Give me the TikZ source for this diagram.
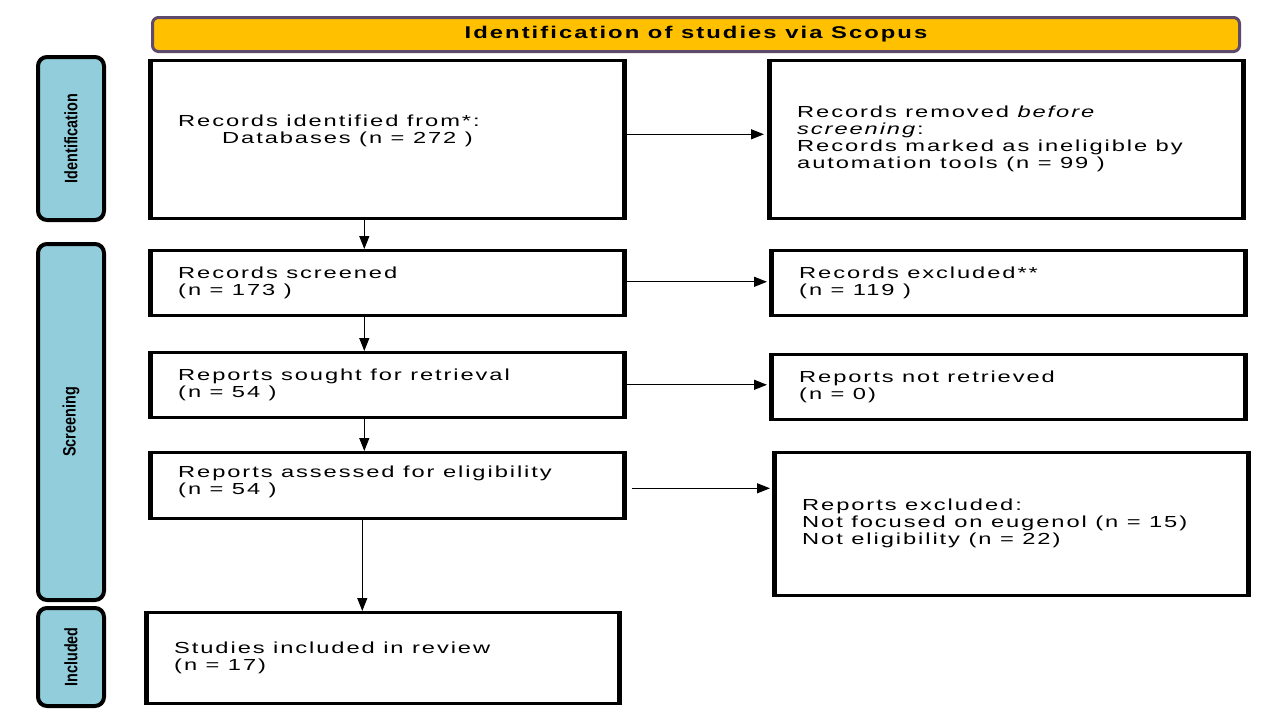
\documentclass[tikz,border=0pt]{standalone}
\usepackage{fontspec}
\setmainfont{Liberation Sans}
\newfontfamily\bodyfont[LetterSpace=12,FakeStretch=1.48]{Liberation Sans}
\newfontfamily\headfont[LetterSpace=12,FakeStretch=1.4]{Liberation Sans}
\newfontfamily\stagefont[FakeStretch=0.8]{Liberation Sans}
\usetikzlibrary{arrows.meta}
\definecolor{headfill}{HTML}{FFC000}
\definecolor{headline}{HTML}{5E4B6B}
\definecolor{sidefill}{HTML}{92CDDC}
\newcommand\thicksides[1]{\draw[sideline] (#1.north west) -- (#1.south west) (#1.north east) -- (#1.south east);}
\begin{document}
\begin{tikzpicture}[x=1pt,y=-1pt,
  box/.style={draw=black, line width=2.6pt, rectangle, inner sep=0pt, anchor=north west, fill=white},
  sideline/.style={line width=4.2pt, line cap=butt},
  head/.style={draw=headline, fill=headfill, line width=3pt, rounded corners=6pt, anchor=north west, inner sep=0pt,
     font=\headfont\bfseries\fontsize{17}{19}\selectfont},
  stage/.style={draw=black, fill=sidefill, line width=4pt, rounded corners=9pt, anchor=north west, inner sep=0pt},
  stagetxt/.style={rotate=90, font=\stagefont\bfseries\fontsize{18}{20}\selectfont, inner sep=0pt},
  txt/.style={anchor=west, align=left, inner sep=0pt, font=\bodyfont\fontsize{16}{17}\selectfont},
  arr/.style={-{Triangle[length=13pt,width=10pt]}, line width=1.3pt, black}]
\useasboundingbox (0,0) rectangle (1280,720);
\fill[white] (0,0) rectangle (1280,720);

% header
\node[head, minimum width=1087pt, minimum height=34pt] (hd) at (151,16) {Identification of studies via Scopus};

% stage labels
\node[stage, minimum width=66pt, minimum height=163pt] (sid) at (36,55) {};
\node[stagetxt] (sidt) at (sid.center) {Identification};
\node[stage, minimum width=66pt, minimum height=356pt] (ssc) at (36,242) {};
\node[stagetxt] (ssct) at (ssc.center) {Screening};
\node[stage, minimum width=66pt, minimum height=98pt] (sin) at (36,606) {};
\node[stagetxt] (sint) at (sin.center) {Included};

% left boxes
\node[box, minimum width=472pt, minimum height=158pt] (b1) at (150,59) {};
\node[box, minimum width=472pt, minimum height=65pt] (b2) at (150,249) {};
\node[box, minimum width=472pt, minimum height=65pt] (b3) at (150,351) {};
\node[box, minimum width=472pt, minimum height=66pt] (b4) at (150,451) {};
\node[box, minimum width=471pt, minimum height=91pt] (b5) at (146,611) {};

% right boxes
\node[box, minimum width=472pt, minimum height=158pt] (r1) at (769,59) {};
\node[box, minimum width=472pt, minimum height=65pt] (r2) at (771,249) {};
\node[box, minimum width=472pt, minimum height=65pt] (r3) at (771,353) {};
\node[box, minimum width=472pt, minimum height=143pt] (r4) at (774,451) {};

\thicksides{b1}\thicksides{b2}\thicksides{b3}\thicksides{b4}\thicksides{b5}
\thicksides{r1}\thicksides{r2}\thicksides{r3}\thicksides{r4}

% texts
\node[txt] (b1t) at ([xshift=28pt,yshift=8pt]b1.west) {Records identified from*:\\\hspace*{44pt}Databases (n = 272 )};
\node[txt] (b2t) at ([xshift=28pt]b2.west) {Records screened\\(n = 173 )};
\node[txt] (b3t) at ([xshift=28pt]b3.west) {Reports sought for retrieval\\(n = 54 )};
\node[txt] (b4t) at ([xshift=28pt,yshift=3pt]b4.west) {Reports assessed for eligibility\\(n = 54 )};
\node[txt] (b5t) at ([xshift=28pt]b5.west) {Studies included in review\\(n = 17)};

\node[txt] (r1t) at ([xshift=28pt]r1.west) {Records removed \textit{before}\\\textit{screening}:\\Records marked as ineligible by\\automation tools (n = 99 )};
\node[txt] (r2t) at ([xshift=28pt]r2.west) {Records excluded**\\(n = 119 )};
\node[txt] (r3t) at ([xshift=28pt]r3.west) {Reports not retrieved\\(n = 0)};
\node[txt] (r4t) at ([xshift=28pt]r4.west) {Reports excluded:\\Not focused on eugenol (n = 15)\\Not eligibility (n = 22)};

% horizontal arrows
\draw[arr, shorten >=5pt] ([yshift=5pt]b1.east) -- ([yshift=5pt]b1.east -| r1.west);
\draw[arr, shorten >=4pt] ([yshift=1pt]b2.east) -- ([yshift=1pt]b2.east -| r2.west);
\draw[arr, shorten >=4pt] (b3.east) -- (b3.east -| r3.west);
\draw[arr, shorten <=7pt, shorten >=4pt] ([yshift=-3pt]b4.east) -- ([yshift=-3pt]b4.east -| r4.west);

% vertical arrows
\coordinate (c1) at ([xshift=-23pt]b1.south);
\coordinate (c2) at ([xshift=-23pt]b2.south);
\coordinate (c3) at ([xshift=-23pt]b3.south);
\coordinate (c4) at ([xshift=-25pt]b4.south);
\draw[arr] (c1) -- (c1 |- b2.north);
\draw[arr] (c2) -- (c2 |- b3.north);
\draw[arr] (c3) -- (c3 |- b4.north);
\draw[arr] (c4) -- (c4 |- b5.north);
\end{tikzpicture}
\end{document}
